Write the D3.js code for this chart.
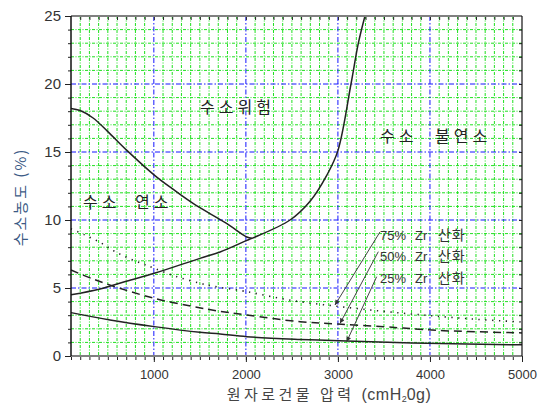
<!DOCTYPE html>
<html><head><meta charset="utf-8">
<script src="https://cdn.jsdelivr.net/npm/d3@7"></script>
<style>body{margin:0;background:#fff}svg{display:block}</style>
</head><body>
<svg id="c" width="544" height="405"></svg>
<script>
// ---- data ----
const upperX = [100, 200, 340, 500, 710, 1005, 1200, 1430, 1790, 2010, 2065];
const upperY = [18.2, 18.05, 17.5, 16.5, 15.1, 13.3, 12.3, 11.2, 9.75, 8.75, 8.65];
const combX = [100, 415, 700, 1005, 1500, 1720, 2010, 2065, 2480, 2700, 2880, 3000, 3142, 3222, 3294];
const combY = [4.5, 4.93, 5.5, 6.08, 7.18, 7.65, 8.5, 8.65, 10.0, 11.4, 13.3, 15.1, 20.0, 23.0, 25.0];
const zr75X = [100, 250, 415, 560, 705, 870, 1005, 1250, 1500, 1630, 2010, 2500, 3000, 3500, 4000, 4500, 5000];
const zr75Y = [9.35, 8.9, 8.36, 7.75, 7.25, 6.8, 6.45, 5.83, 5.35, 5.15, 4.73, 4.08, 3.65, 3.28, 2.97, 2.7, 2.5];
const zr50X = [100, 340, 630, 1005, 1430, 1680, 2010, 2590, 3000, 3500, 3820, 4150, 5000];
const zr50Y = [6.32, 5.66, 4.98, 4.24, 3.63, 3.33, 3.01, 2.52, 2.35, 2.15, 2.0, 1.86, 1.7];
const zr25X = [100, 524, 1005, 1500, 1720, 2010, 2590, 3095, 3964, 5000];
const zr25Y = [3.19, 2.65, 2.16, 1.74, 1.62, 1.42, 1.22, 1.1, 0.93, 0.82];
const xTicks = [1000, 2000, 3000, 4000, 5000];
const yTicks = [0, 5, 10, 15, 20, 25];
const legendLabels = ["75%", "50%", "25%"];
const legendX = [3457, 3457, 3457];
const legendY = [8.53, 6.99, 5.37];
const arrowFromX = [3457, 3439, 3421];
const arrowFromY = [9.12, 7.67, 5.83];
const arrowToX = [2968, 3023, 3095];
const arrowToY = [3.75, 2.4, 1.05];
const regionTexts = ["수소위험", "수소", "불연소", "수소", "연소"];
const regionX = [1502, 3457, 4055, 230, 795];
const regionY = [17.87, 15.74, 15.74, 10.88, 10.88];

// ---- chart ----
const svg = d3.select("#c");
const x = d3.scaleLinear().domain([100, 5000]).range([71, 522]);
const y = d3.scaleLinear().domain([0, 25]).range([356, 16]);
const [x0, x1] = x.range(); const [y0, y1] = y.range();

// green minor grid
const g = svg.append("g");
g.selectAll("line.gx").data(d3.range(200, 5000, 100).filter(v => v % 1000 !== 0)).join("line")
  .attr("x1", d => x(d)).attr("x2", d => x(d)).attr("y1", y1).attr("y2", y0)
  .attr("stroke", "#1fe01f").attr("stroke-width", 1).attr("stroke-dasharray", "3,1.5,1,1.5");
g.selectAll("line.gy").data(d3.range(1, 25, 1).filter(v => v % 5 !== 0)).join("line")
  .attr("x1", x0).attr("x2", x1).attr("y1", d => y(d)).attr("y2", d => y(d))
  .attr("stroke", "#1fe01f").attr("stroke-width", 1).attr("stroke-dasharray", "3,1.5,1,1.5");
// blue major grid
g.selectAll("line.bx").data([1000, 2000, 3000, 4000]).join("line")
  .attr("x1", d => x(d)).attr("x2", d => x(d)).attr("y1", y1).attr("y2", y0)
  .attr("stroke", "#1515ff").attr("stroke-width", 1).attr("stroke-dasharray", "5,2,1.5,2");
g.selectAll("line.by").data([5, 10, 15, 20]).join("line")
  .attr("x1", x0).attr("x2", x1).attr("y1", d => y(d)).attr("y2", d => y(d))
  .attr("stroke", "#1515ff").attr("stroke-width", 1).attr("stroke-dasharray", "5,2,1.5,2");

// curves
const lineGen = d3.line().x(d => x(d[0])).y(d => y(d[1])).curve(d3.curveCatmullRom.alpha(0.5));
const zip = (a, b) => a.map((v, i) => [v, b[i]]);
const curves = [
  {d: zip(upperX, upperY), dash: null, w: 1.5},
  {d: zip(combX, combY), dash: null, w: 1.5},
  {d: zip(zr75X, zr75Y), dash: "1.3,5.5", w: 1.6},
  {d: zip(zr50X, zr50Y), dash: "8,5", w: 1.5},
  {d: zip(zr25X, zr25Y), dash: null, w: 1.5},
];
svg.append("g").selectAll("path").data(curves).join("path")
  .attr("d", c => lineGen(c.d)).attr("fill", "none").attr("stroke", "#222")
  .attr("stroke-width", c => c.w).attr("stroke-dasharray", c => c.dash);

// axes
const font = "Arial, 'Liberation Sans', sans-serif";
const leftAx = svg.append("g").attr("transform", `translate(${x0},0)`)
  .call(d3.axisLeft(y).tickValues(d3.range(0, 26, 1)).tickSize(3).tickFormat(""));
leftAx.select(".domain").remove();
const leftMaj = svg.append("g").attr("transform", `translate(${x0},0)`)
  .call(d3.axisLeft(y).tickValues(yTicks).tickSize(6).tickPadding(4));
leftMaj.select(".domain").remove();
leftMaj.selectAll("text").attr("font-family", font).attr("font-size", 15).attr("fill", "#333");

const rightAx = svg.append("g").attr("transform", `translate(${x1},0)`)
  .call(d3.axisLeft(y).tickValues(d3.range(1, 25, 1)).tickSize(3).tickFormat(""));
rightAx.select(".domain").remove();

const botAx = svg.append("g").attr("transform", `translate(0,${y0})`)
  .call(d3.axisBottom(x).tickValues(d3.range(100, 5001, 100)).tickSize(4).tickFormat(""));
botAx.select(".domain").remove();
const botMaj = svg.append("g").attr("transform", `translate(0,${y0})`)
  .call(d3.axisBottom(x).tickValues(xTicks).tickSize(6).tickPadding(8).tickFormat(d3.format("d")));
botMaj.select(".domain").remove();
botMaj.selectAll("text").attr("font-family", font).attr("font-size", 13).attr("fill", "#333");

const topAx = svg.append("g").attr("transform", `translate(0,${y1})`)
  .call(d3.axisTop(x).tickValues(d3.range(200, 5000, 100)).tickSize(-4).tickFormat(""));
topAx.select(".domain").remove();

svg.selectAll(".tick line").attr("stroke", "#222");

// frame lines
svg.append("line").attr("x1", x0).attr("x2", x1).attr("y1", y0).attr("y2", y0).attr("stroke", "#808080").attr("stroke-width", 2);
svg.append("line").attr("x1", x0).attr("x2", x1).attr("y1", y1).attr("y2", y1).attr("stroke", "#808080").attr("stroke-width", 2);
svg.append("line").attr("x1", x0).attr("x2", x0).attr("y1", y1).attr("y2", y0).attr("stroke", "#111").attr("stroke-width", 1.5);
svg.append("line").attr("x1", x1).attr("x2", x1).attr("y1", y1).attr("y2", y0).attr("stroke", "#111").attr("stroke-width", 1.2);

// arrows
svg.append("defs").append("marker").attr("id", "ah").attr("viewBox", "0 0 10 10")
  .attr("refX", 10).attr("refY", 5).attr("markerWidth", 10).attr("markerHeight", 5)
  .attr("markerUnits", "userSpaceOnUse").attr("orient", "auto")
  .append("path").attr("d", "M0,0 L10,5 L0,10 Z").attr("fill", "#333");
svg.append("g").selectAll("line").data(arrowFromX).join("line")
  .attr("x1", (d, i) => x(d)).attr("y1", (d, i) => y(arrowFromY[i]))
  .attr("x2", (d, i) => x(arrowToX[i])).attr("y2", (d, i) => y(arrowToY[i]))
  .attr("stroke", "#444").attr("stroke-width", 1).attr("marker-end", "url(#ah)");

// legend texts
const kfont = "'Noto Sans CJK KR', 'Noto Sans', sans-serif";
const lg = svg.append("g");
legendLabels.forEach((t, i) => {
  const bx = x(legendX[i]), by = y(legendY[i]);
  lg.append("text").attr("x", bx).attr("y", by).text(t)
    .attr("font-family", font).attr("font-size", 13).attr("fill", "#333");
  lg.append("text").attr("x", bx + 35).attr("y", by).text("Zr")
    .attr("font-family", font).attr("font-size", 13).attr("fill", "#333");
  lg.append("text").attr("x", bx + 58).attr("y", by).text("산화")
    .attr("font-family", kfont).attr("font-size", 14).attr("fill", "#333").attr("letter-spacing", 1);
});

// region texts
svg.append("g").selectAll("text").data(regionTexts).join("text")
  .attr("x", (d, i) => x(regionX[i])).attr("y", (d, i) => y(regionY[i]))
  .text(d => d).attr("font-family", kfont).attr("font-size", 16).attr("letter-spacing", 4)
  .attr("fill", "#222");

// axis titles
svg.append("text").attr("transform", "translate(26,197) rotate(-90)").attr("text-anchor", "middle")
  .attr("font-family", kfont).attr("font-size", 15).attr("letter-spacing", 2).attr("fill", "#3b5a85")
  .text("수소농도 (%)");
const xt = svg.append("text").attr("x", 329).attr("y", 400).attr("text-anchor", "middle")
  .attr("font-family", kfont).attr("font-size", 15).attr("fill", "#444");
xt.append("tspan").attr("letter-spacing", 3.5).text("원자로건물 압력 ");
xt.append("tspan").attr("font-family", font).attr("font-size", 16).attr("letter-spacing", 0.5).text("(cmH");
xt.append("tspan").attr("font-family", font).attr("font-size", 9).attr("dy", 2).text("2");
xt.append("tspan").attr("font-family", font).attr("font-size", 16).attr("letter-spacing", 0.5).attr("dy", -2).text("0g)");
</script>
</body></html>
